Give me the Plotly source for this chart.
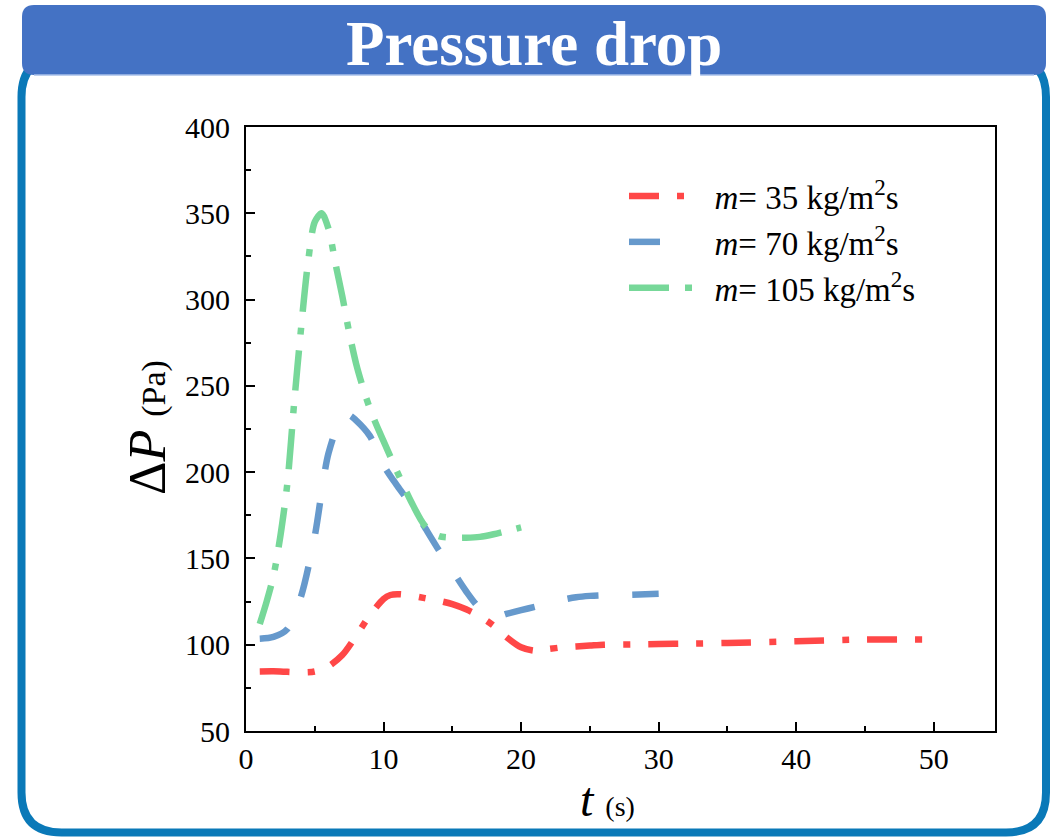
import plotly.graph_objects as go

# ---- data ----
t_35 = [1, 2, 3, 4, 5, 6, 7, 8, 9, 10, 10.5, 11, 12, 13, 14, 15, 16, 17, 18, 19, 20, 21, 22, 23, 24, 25, 26, 28, 30, 32, 35, 40, 45, 50]
p_35 = [84.5, 84.6, 84.3, 84.0, 84.5, 87.5, 94, 105, 117, 126.5, 128.8, 129.3, 128.5, 127, 125.5, 123.5, 120.5, 116.5, 111, 104, 98.5, 96.5, 97.5, 98.5, 99, 99.5, 100, 100.2, 100.4, 100.6, 101, 102, 103, 103]

t_70 = [1, 2, 3, 4, 5, 6, 7, 7.5, 8, 9, 10, 11, 12, 13, 14, 15, 16, 17, 18, 19, 20, 21, 22, 23, 24, 25, 26, 28, 30]
p_70 = [103.5, 104.5, 109, 128, 163, 211, 232, 233, 230, 221, 204, 192, 181, 168, 155, 143, 131, 121, 116, 118, 120, 122, 124, 126, 127.5, 128.3, 128.7, 129, 129.5]

t_105 = [1, 1.5, 2, 2.5, 3, 3.5, 4, 4.5, 5, 5.5, 6, 6.5, 7, 7.5, 8, 8.5, 9, 9.5, 10, 11, 12, 13, 14, 15, 16, 17, 18, 19, 20]
p_105 = [112, 125, 140, 163, 193, 240, 283, 321, 345, 350, 341, 321, 302, 281, 263, 249, 237, 227, 218, 200, 183, 169, 163, 162, 162, 162.5, 164, 166, 168]

names = ["&nbsp;&nbsp;<i>m</i>= 35 kg/m<sup>2</sup>s", "&nbsp;&nbsp;<i>m</i>= 70 kg/m<sup>2</sup>s", "&nbsp;&nbsp;<i>m</i>= 105 kg/m<sup>2</sup>s"]
colors = ["#FF4747", "#6699CC", "#77D899"]
dashes = ["30px,18px,7px,18px", "31px,34px", "40px,16px,7px,16px"]

x_ticks = [0, 10, 20, 30, 40, 50]
y_ticks = [50, 100, 150, 200, 250, 300, 350, 400]

FONT = "Liberation Serif, Times New Roman, serif"

# ---- geometry (pixels) ----
W, H = 1063, 837
L, R, T, B = 246, 995, 127, 731


def px(x):
    return (x - L) / (R - L)


def py(y):
    return (B - y) / (B - T)


def rrect(x1, y1, x2, y2, r):
    pts = [
        f"M{px(x1 + r)},{py(y1)}",
        f"L{px(x2 - r)},{py(y1)}",
        f"Q{px(x2)},{py(y1)} {px(x2)},{py(y1 + r)}",
        f"L{px(x2)},{py(y2 - r)}",
        f"Q{px(x2)},{py(y2)} {px(x2 - r)},{py(y2)}",
        f"L{px(x1 + r)},{py(y2)}",
        f"Q{px(x1)},{py(y2)} {px(x1)},{py(y2 - r)}",
        f"L{px(x1)},{py(y1 + r)}",
        f"Q{px(x1)},{py(y1)} {px(x1 + r)},{py(y1)}",
        "Z",
    ]
    return " ".join(pts)


fig = go.Figure()
for tx, pv, nm, c, d in zip([t_35, t_70, t_105], [p_35, p_70, p_105], names, colors, dashes):
    fig.add_trace(go.Scatter(
        x=tx, y=pv, name=nm, mode="lines",
        line=dict(color=c, width=6.5, dash=d, shape="spline", smoothing=0.8),
    ))

axis_common = dict(
    showline=True, linecolor="black", linewidth=2, mirror=True,
    ticks="inside", tickcolor="black", tickwidth=2,
    showgrid=False, zeroline=False,
    tickfont=dict(family=FONT, size=30, color="black"),
)

fig.update_xaxes(range=[0, 54.45], tickvals=x_ticks, ticklen=9,
                 minor=dict(dtick=5, tick0=0, ticks="inside", ticklen=5, tickcolor="black", tickwidth=2, showgrid=False),
                 **axis_common)
fig.update_yaxes(range=[50, 400], tickvals=y_ticks, ticklen=9, ticklabelstandoff=8,
                 minor=dict(dtick=25, tick0=0, ticks="inside", ticklen=5, tickcolor="black", tickwidth=2, showgrid=False),
                 **axis_common)

shapes = [
    dict(type="path", xref="paper", yref="paper", path=rrect(21.5, 57, 1046, 832.5, 40),
         line=dict(color="#0A79B8", width=8), fillcolor="rgba(0,0,0,0)", layer="below"),
    dict(type="path", xref="paper", yref="paper", path=rrect(22, 5, 1046, 75, 12),
         line=dict(color="#4472C4", width=0), fillcolor="#4472C4", layer="above"),
    dict(type="line", xref="paper", yref="paper", x0=px(34), x1=px(1034), y0=py(75), y1=py(75),
         line=dict(color="#A9C1EA", width=1.5), layer="above"),
]

annotations = [
    dict(text="<b>Pressure drop</b>", xref="paper", yref="paper", x=px(534), y=py(44),
         xanchor="center", yanchor="middle", showarrow=False,
         font=dict(family=FONT, size=63, color="white")),
    dict(text="<i>t</i> <span style='font-size:28px'>(s)</span>", xref="paper", yref="paper",
         x=px(607), y=py(799), xanchor="center", yanchor="middle", showarrow=False,
         font=dict(family=FONT, size=48, color="black")),
    dict(text="Δ<i>P</i> <span style='font-size:34px'>(Pa)</span>", xref="paper", yref="paper",
         x=px(147), y=py(428), xanchor="center", yanchor="middle", showarrow=False, textangle=-90,
         font=dict(family=FONT, size=52, color="black")),
]

fig.update_layout(
    width=W, height=H,
    margin=dict(l=L, r=W - R, t=T, b=H - B, pad=0),
    paper_bgcolor="white", plot_bgcolor="white",
    showlegend=True,
    legend=dict(x=px(624), y=py(168), xanchor="left", yanchor="top",
                bgcolor="rgba(0,0,0,0)", font=dict(family=FONT, size=33, color="black"),
                itemwidth=64, tracegroupgap=0),
    shapes=shapes, annotations=annotations,
)

fig.write_html("out.html", config={"displayModeBar": False},
               post_script="document.body.style.margin='0';document.body.style.overflow='hidden';")
